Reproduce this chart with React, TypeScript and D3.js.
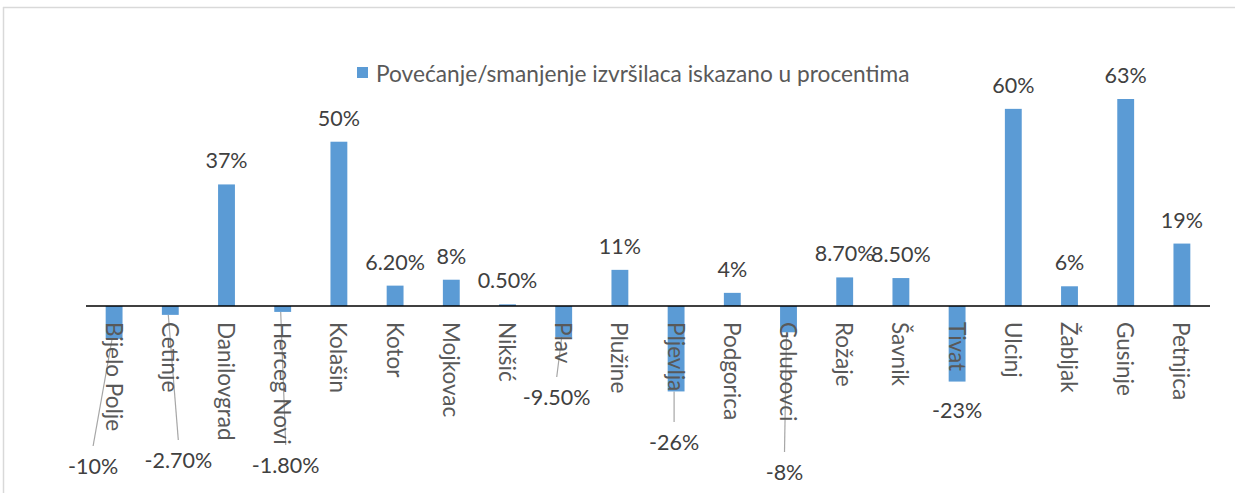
import React from "react";
import * as d3 from "d3";

const categories = ["Bijelo Polje","Cetinje","Danilovgrad","Herceg Novi","Kolašin","Kotor","Mojkovac","Nikšić","Plav","Plužine","Pljevlja","Podgorica","Golubovci","Rožaje","Šavnik","Tivat","Ulcinj","Žabljak","Gusinje","Petnjica"];
const values = [-10,-2.7,37,-1.8,50,6.2,8,0.5,-9.5,11,-26,4,-8,8.7,8.5,-23,60,6,63,19];
const valueLabels = ["-10%","-2.70%","37%","-1.80%","50%","6.20%","8%","0.50%","-9.50%","11%","-26%","4%","-8%","8.70%","8.50%","-23%","60%","6%","63%","19%"];
const seriesName = "Povećanje/smanjenje izvršilaca iskazano u procentima";

// manually moved labels for negative values: [index, dx, labelCenterY, hasLeader]
const movedLabels: [number, number, number, boolean][] = [
  [0, -21, 466, true],
  [1, 8, 460, true],
  [3, 3, 465, true],
  [8, -7, 397, true],
  [10, -2, 442, true],
  [12, -4, 472, true],
  [15, 0, 410, false],
];

const W = 1235, H = 493;
const FONT = "Lato, 'Open Sans', sans-serif";
const BLUE = "#5b9bd5";

export default function App() {
  const x = d3.scaleBand<string>().domain(categories).range([86, 1210]).padding(0);
  const y = d3.scaleLinear().domain([0, 63]).range([306, 99]);
  const bw = x.bandwidth() * 0.3;
  const cx = (i: number) => (x(categories[i]) as number) + x.bandwidth() / 2;
  const movedMap = new Map(movedLabels.map((m) => [m[0], m]));

  return (
    <svg width={W} height={H} style={{ position: "absolute", left: 0, top: 0, background: "#fff" }} fontFamily={FONT}>
      <line x1={3} y1={7.5} x2={W} y2={7.5} stroke="#d9d9d9" strokeWidth={1.5} />
      <line x1={3.5} y1={7} x2={3.5} y2={H} stroke="#d9d9d9" strokeWidth={1.5} />

      {/* legend */}
      <rect x={357} y={67} width={11} height={11} fill={BLUE} />
      <text x={376} y={73} dominantBaseline="central" fontSize={22.7} fill="#595959">{seriesName}</text>

      {/* leader lines */}
      {movedLabels.filter((m) => m[3]).map(([i, dx, ly]) => (
        <line key={"l" + i} x1={cx(i) + dx} y1={ly - 20} x2={cx(i) - 2} y2={y(values[i])} stroke="#a6a6a6" strokeWidth={1.2} />
      ))}

      {/* bars */}
      {values.map((v, i) => (
        <rect key={"b" + i} x={cx(i) - bw / 2} y={Math.min(y(v), y(0))} width={bw} height={Math.abs(y(v) - y(0))} fill={BLUE} />
      ))}

      {/* axis */}
      <line x1={86} y1={306} x2={1210} y2={306} stroke="#000" strokeWidth={1.5} />

      {/* category labels */}
      {categories.map((c, i) => (
        <text key={"c" + i} transform={`translate(${cx(i)},322) rotate(90)`} dominantBaseline="central" fontSize={22.5} fill="#595959">{c}</text>
      ))}

      {/* value labels */}
      {values.map((v, i) => {
        const m = movedMap.get(i);
        if (m) {
          return <text key={"v" + i} x={cx(i) + m[1]} y={m[2]} textAnchor="middle" dominantBaseline="central" fontSize={21.5} fill="#404040">{valueLabels[i]}</text>;
        }
        return <text key={"v" + i} x={cx(i)} y={y(v) - 24} textAnchor="middle" dominantBaseline="central" fontSize={21.5} fill="#404040">{valueLabels[i]}</text>;
      })}
    </svg>
  );
}
